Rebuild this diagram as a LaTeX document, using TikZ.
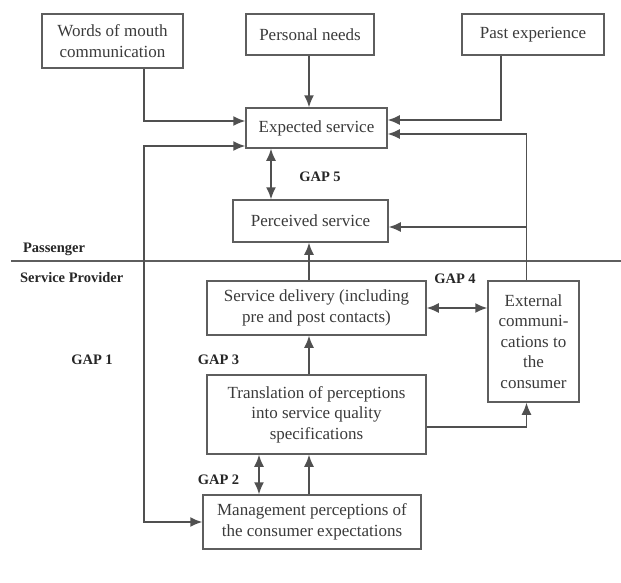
\documentclass[tikz,border=0pt]{standalone}
\usepackage{fontspec}
\setmainfont{Liberation Serif}
\usetikzlibrary{%
  arrows.meta,%
  positioning,%
  calc%
}

\definecolor{boxgray}{HTML}{5E5E5E}
\definecolor{txtgray}{HTML}{3A3A3A}

\begin{document}
\begin{tikzpicture}[
  x=1pt, y=-1pt,
  >={Latex[length=12pt,width=10pt]},
  line width=1.5pt,
  box/.style={draw=boxgray, line width=1.5pt, align=center, inner sep=0pt,
    text=txtgray, font=\fontsize{17}{20.5}\selectfont},
  gap/.style={text=black!85, font=\fontsize{14.5}{16}\selectfont\bfseries},
  conn/.style={draw=boxgray!85!black},
]

\useasboundingbox (0,0) rectangle (621,582);

\node[box, minimum width=141pt, minimum height=54pt] (wom) at (112.5,41) {Words of mouth\\communication};
\node[box, minimum width=128pt, minimum height=41pt] (pneeds) at (310,34.5) {Personal needs};
\node[box, minimum width=142pt, minimum height=41pt] (pexp) at (533,34.5) {Past experience};

\node[box, minimum width=141pt, minimum height=40pt] (expected) at (316.5,128) {Expected service};
\node[box, minimum width=155pt, minimum height=42pt] (perceived) at (310.5,221) {Perceived service};

\node[box, minimum width=219pt, minimum height=54pt] (delivery) at (316.5,308) {Service delivery (including\\pre and post contacts)};
\node[box, minimum width=91pt, minimum height=121pt] (external) at (533.5,341.5) {External\\communi-\\cations to\\the\\consumer};
\node[box, minimum width=219pt, minimum height=79pt] (translation) at (316.5,414.5) {Translation of perceptions\\into service quality\\specifications};
\node[box, minimum width=218pt, minimum height=54pt] (mgmt) at (312,522) {Management perceptions of\\the consumer expectations};

\coordinate (fb) at (144,0);
\coordinate (mid) at (309,0);
\coordinate (g5) at (271,0);
\coordinate (g2) at (259,0);

\draw[boxgray, line width=1.5pt] (11,261) -- (621,261);
\node[gap, anchor=base west] (pass) at (19,252) {Passenger};
\node[gap, anchor=base west] (prov) at (16,282) {Service Provider};

\node[gap] (gap1) at (92,360) {GAP 1};
\node[gap] (gap2) at (218.5,480) {GAP 2};
\node[gap] (gap3) at (218.5,360) {GAP 3};
\node[gap] (gap4) at (455,279) {GAP 4};
\node[gap] (gap5) at (320,177) {GAP 5};

\draw[conn,->] (wom.south -| fb) |- ([yshift=7pt]expected.west);
\draw[conn,->] (pneeds.south -| mid) -- (expected.north -| mid);
\draw[conn,->] ([xshift=-32pt]pexp.south) |- ([yshift=8pt]expected.east);
\draw[conn,->] ([xshift=-7pt]external.north) |- ([yshift=-6pt]expected.east);
\draw[conn,->] ([xshift=-7pt]external.north) |- ([yshift=-6pt]perceived.east);
\draw[conn,<->] (expected.south -| g5) -- (perceived.north -| g5);

\draw[conn,->] (delivery.north -| mid) -- (perceived.south -| mid);
\draw[conn,<->] (delivery.east) -- (external.west |- delivery.east);
\draw[conn,->] (translation.north -| mid) -- (delivery.south -| mid);
\draw[conn,->] ([yshift=-12.5pt]translation.east) -| ([xshift=-7pt]external.south);
\draw[conn,->] (mgmt.north -| mid) -- (translation.south -| mid);
\draw[conn,<->] (mgmt.north -| g2) -- (translation.south -| g2);

\draw[conn,<->] ([yshift=-18pt]expected.west) -- ([yshift=-18pt]expected.west -| fb)
  -- (mgmt.west -| fb) -- (mgmt.west);

\end{tikzpicture}
\end{document}
